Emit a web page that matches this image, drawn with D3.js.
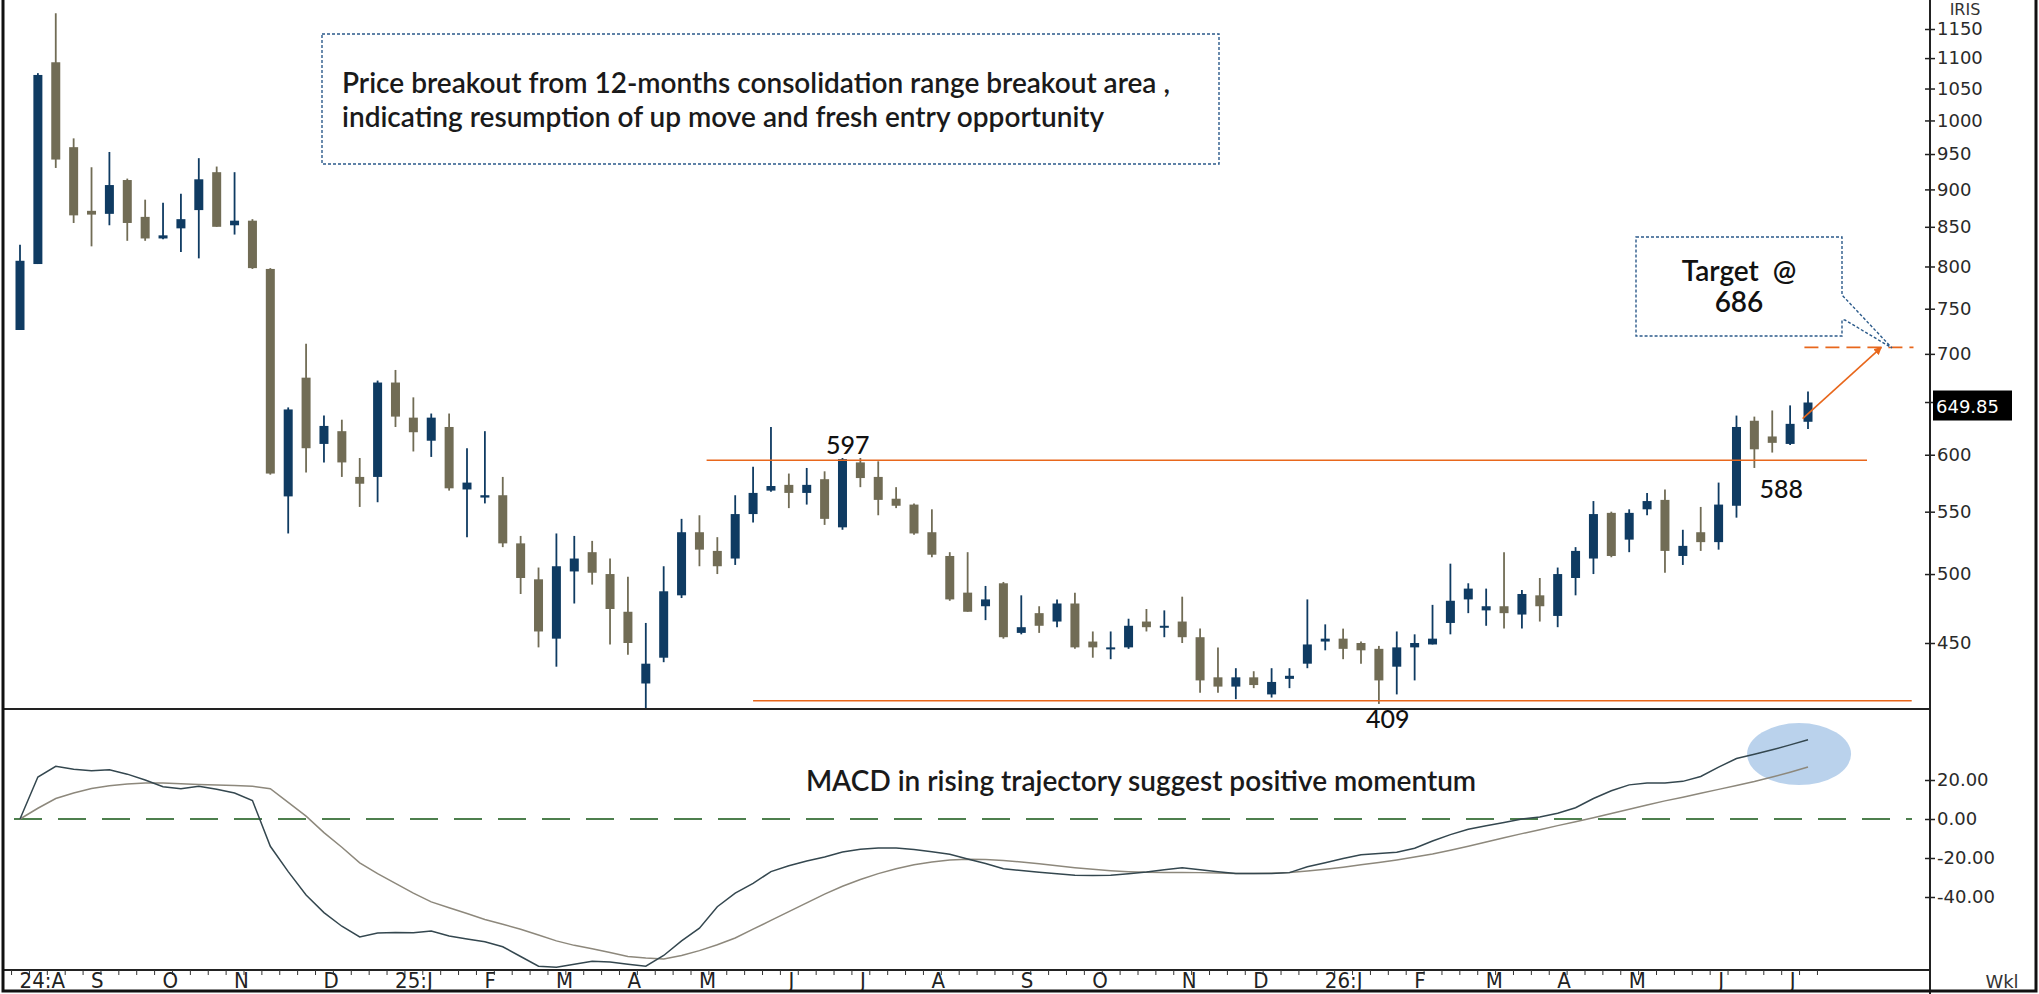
<!DOCTYPE html>
<html>
<head>
<meta charset="utf-8">
<script src="https://cdn.jsdelivr.net/npm/d3@7"></script>
<style>
  html, body { margin: 0; padding: 0; background: #fff; }
  svg { display: block; }
</style>
</head>
<body>
<div id="chart"></div>
<script>
// weekly candles, Aug 2024 -> Jul 2026
const open  = [726,803,1093,960,871,867,913,863,835,848,872,924,852,858,797,563,675,610,622,580,
               580,670,635,613,626,569,562,564,524,496,453,502,517,500,472,423,440,484,533,518,
               512,548,568,573,566,578,537,593,580,561,556,533,514,486,476,493,457,471,465,478,
               451,446,447,465,461,465,454,427,421,427,416,426,436,451,453,450,446,434,447,449,
               464,481,473,476,470,484,469,497,512,549,527,552,560,514,533,525,555,632,617,610,631];
const high  = [827,1075,1178,973,931,953,915,886,882,894,944,932,924,860,798,645,711,637,633,597,
               672,683,655,639,639,606,622,580,530,505,532,530,526,512,498,464,506,544,547,529,
               564,589,626,583,588,585,597,597,594,571,557,552,517,517,491,494,484,476,481,486,
               458,458,467,474,473,483,460,447,433,431,433,433,481,463,460,451,448,458,456,477,
               508,493,489,517,488,497,505,521,559,550,552,566,569,535,554,575,637,636,642,647,661];
const low   = [726,803,930,855,825,852,832,832,834,818,810,850,840,797,582,532,584,593,580,554,
               558,626,603,598,568,529,557,521,485,447,434,478,492,449,442,406,437,482,506,500,
               507,541,567,553,556,539,535,571,547,553,531,513,480,472,466,453,456,457,461,446,
               440,439,446,458,454,450,417,417,413,420,414,420,433,445,439,436,410,416,425,449,
               456,471,462,460,460,465,461,484,500,513,517,547,501,507,518,519,545,588,602,609,624];
const close = [807,1072,942,865,866,906,855,835,839,860,914,850,858,798,583,643,606,627,593,574,
               670,636,621,635,570,575,564,524,497,458,506,512,501,474,450,436,487,533,519,506,
               548,566,572,566,573,544,596,579,560,555,532,515,481,472,481,454,461,462,478,447,
               447,447,462,461,462,454,425,421,427,422,424,428,449,453,446,445,425,447,450,453,
               480,489,476,471,485,476,500,518,548,514,549,559,518,522,525,556,626,605,611,629,649.85];

// MACD (dark) and signal (light) lines
const macd   = [0,21.5,27,25.5,24.8,25.3,23,20,16.5,15.5,16.8,15.3,13.3,9.5,-14,-27,-39,-48,-55,-60.5,
                -58.5,-58.2,-58.3,-57.4,-60,-61.5,-63,-65.5,-70.5,-75.5,-76,-74.5,-73,-73.3,-74.5,-75.5,-70,-62.5,-56,-45,
                -38,-33,-27,-24,-21.5,-19.5,-16.9,-15.5,-14.9,-14.9,-15.6,-16.8,-18.1,-20.5,-22.8,-25.5,-26.4,-27.3,-28.1,-28.9,
                -29,-28.9,-28.1,-27.2,-26,-25,-26,-27.1,-28,-28,-28,-27.5,-24.5,-22.4,-20.3,-18.3,-17.7,-17,-15,-11.3,
                -8,-5.3,-3.5,-1.8,0,1,3,5.8,10.5,14.5,17.5,18.4,18.5,19.3,21.8,26.6,31,33.2,35.5,38,40.6];
const signal = [0,5.5,10.5,13.3,15.6,17,18,18.4,18.4,18.1,17.7,17.4,17.2,16.8,15.5,8.5,1.5,-7,-14.5,-22.5,
                -28,-33,-38,-42.5,-45.5,-48.5,-51.5,-54,-56.5,-59.5,-62.5,-64.8,-66.5,-68.5,-70.5,-71.3,-71.8,-70,-67.5,-64.5,
                -61,-56.5,-52,-47.5,-43,-38.5,-34.5,-31,-28,-25.5,-23.5,-22,-21,-20.6,-20.8,-21.3,-22,-23,-24,-25,
                -25.8,-26.5,-27,-27.3,-27.4,-27.4,-27.5,-27.7,-27.9,-28,-27.8,-27.4,-26.7,-25.8,-24.7,-23.5,-22.3,-21,-19.5,-18,
                -16,-14,-11.8,-9.6,-7.5,-5.5,-3.4,-1.4,0.6,2.8,5,7.2,9.3,11.2,13.2,15.2,17.2,19.2,21.5,24,26.7];

// month labels and the week they start on
const monthLabels = ['24:A','S','O','N','D','25:J','F','M','A','M','J','J','A','S','O','N','D','26:J','F','M','A','M','J','J'];
const monthWeeks  = [0,4,8,12,17,21,26,30,34,38,43,47,51,56,60,65,69,73,78,82,86,90,95,99];

const priceTicks = [450,500,550,600,700,750,800,850,900,950,1000,1050,1100,1150];
const macdTicks  = [20,0,-20,-40];

// levels marked on the chart
const resistance = 595, support = 412, targetLine = 707;

const W = 2039, H = 994;
const axisX = 1930, sepY = 709, xAxisY = 970;
const upColor = '#0f3b62', downColor = '#716c55';
const orange = '#e8671c';
const textFont = 'Lato, "Open Sans", sans-serif';
const axisFont = '"DejaVu Sans", Verdana, sans-serif';

const svg = d3.select('#chart').append('svg')
  .attr('width', W).attr('height', H);

const x  = d3.scaleLinear().domain([0, close.length - 1]).range([20, 1808]);
const y  = d3.scaleLog().domain([450, 1150]).range([643, 29]);
const ym = d3.scaleLinear().domain([-40, 20]).range([897, 780]);
const step = x(1) - x(0);

svg.append('rect').attr('width', W).attr('height', H).attr('fill', '#fff');

const defs = svg.append('defs');
defs.append('clipPath').attr('id', 'clipPrice')
  .append('rect').attr('x', 4).attr('y', 0).attr('width', axisX - 4).attr('height', sepY);
defs.append('clipPath').attr('id', 'clipMacd')
  .append('rect').attr('x', 4).attr('y', sepY + 1).attr('width', axisX - 4).attr('height', xAxisY - sepY - 1);
defs.append('marker').attr('id', 'arrow')
  .attr('viewBox', '0 0 10 10').attr('refX', 9).attr('refY', 5)
  .attr('markerWidth', 8).attr('markerHeight', 8).attr('markerUnits', 'userSpaceOnUse')
  .attr('orient', 'auto')
  .append('path').attr('d', 'M0,0 L10,5 L0,10 Z').attr('fill', orange);

// ---- price panel ----
const price = svg.append('g').attr('clip-path', 'url(#clipPrice)');

const candle = price.selectAll('.candle')
  .data(close.map((c, i) => ({ i, o: open[i], h: high[i], l: low[i], c })))
  .enter().append('g').attr('class', 'candle');

candle.append('line')
  .attr('x1', d => x(d.i)).attr('x2', d => x(d.i))
  .attr('y1', d => y(d.h)).attr('y2', d => y(d.l))
  .attr('stroke', d => d.c >= d.o ? upColor : downColor)
  .attr('stroke-width', 1.8);

candle.append('rect')
  .attr('x', d => x(d.i) - 4.5)
  .attr('width', 9)
  .attr('y', d => y(Math.max(d.o, d.c)))
  .attr('height', d => Math.max(2, Math.abs(y(d.o) - y(d.c))))
  .attr('fill', d => d.c >= d.o ? upColor : downColor);

// support / resistance
price.append('line')
  .attr('x1', x(38.4)).attr('x2', x(103.3))
  .attr('y1', y(resistance)).attr('y2', y(resistance))
  .attr('stroke', orange).attr('stroke-width', 1.6);
price.append('line')
  .attr('x1', x(41)).attr('x2', x(105.8))
  .attr('y1', y(support)).attr('y2', y(support))
  .attr('stroke', orange).attr('stroke-width', 1.6);
price.append('line')
  .attr('x1', x(99.8)).attr('x2', x(105.9))
  .attr('y1', y(targetLine)).attr('y2', y(targetLine))
  .attr('stroke', orange).attr('stroke-width', 1.6)
  .attr('stroke-dasharray', '14,7');

// arrow toward target
price.append('line')
  .attr('x1', x(99.7)).attr('y1', y(634))
  .attr('x2', x(104.1)).attr('y2', y(707))
  .attr('stroke', orange).attr('stroke-width', 1.6)
  .attr('marker-end', 'url(#arrow)');

// level labels
const lvl = [
  { t: '597', i: 46.3, v: 601 },
  { t: '588', i: 98.5, v: 562 },
  { t: '409', i: 76.5, v: 395 }
];
svg.selectAll('.lvl').data(lvl).enter().append('text')
  .attr('x', d => x(d.i)).attr('y', d => y(d.v))
  .attr('text-anchor', 'middle')
  .attr('font-family', textFont).attr('font-size', 25).attr('font-weight', 500)
  .attr('fill', '#111')
  .text(d => d.t);

// breakout comment box
svg.append('rect')
  .attr('x', 322).attr('y', 34).attr('width', 897).attr('height', 130)
  .attr('fill', '#fff').attr('stroke', '#2b5a8a').attr('stroke-width', 1.4)
  .attr('stroke-dasharray', '3,2');
const note = svg.append('text')
  .attr('font-family', textFont).attr('font-size', 28).attr('font-weight', 600)
  .attr('fill', '#1a1a1a');
note.append('tspan').attr('x', 342).attr('y', 93)
  .text('Price breakout from 12-months consolidation range breakout area ,');
note.append('tspan').attr('x', 342).attr('y', 127)
  .text('indicating resumption of up move and fresh entry opportunity');

// target callout
svg.append('path')
  .attr('d', 'M1636,237 H1842 V295 L1892,348 L1845,320 H1842 V336 H1636 Z')
  .attr('fill', '#fff').attr('stroke', '#2b5a8a').attr('stroke-width', 1.4)
  .attr('stroke-dasharray', '3,2');
const tgt = svg.append('text')
  .attr('text-anchor', 'middle')
  .attr('font-family', textFont).attr('font-size', 28).attr('font-weight', 600)
  .attr('fill', '#111');
tgt.append('tspan').attr('x', 1739).attr('y', 281).attr('xml:space', 'preserve').text('Target  @');
tgt.append('tspan').attr('x', 1739).attr('y', 312).text('686');

// ---- MACD panel ----
const mp = svg.append('g').attr('clip-path', 'url(#clipMacd)');

mp.append('ellipse')
  .attr('cx', x(99.5)).attr('cy', ym(33.3)).attr('rx', 52).attr('ry', 31)
  .attr('fill', '#a9c7e7').attr('opacity', 0.8);

mp.append('line')
  .attr('x1', 14).attr('x2', 1912)
  .attr('y1', ym(0)).attr('y2', ym(0))
  .attr('stroke', '#4d7f4d').attr('stroke-width', 1.8)
  .attr('stroke-dasharray', '28,16');

const ln = d3.line().x((d, i) => x(i)).y(d => ym(d));
mp.append('path').datum(signal).attr('d', ln)
  .attr('fill', 'none').attr('stroke', '#8d887c').attr('stroke-width', 1.5);
mp.append('path').datum(macd).attr('d', ln)
  .attr('fill', 'none').attr('stroke', '#34474f').attr('stroke-width', 1.5);

svg.append('text')
  .attr('x', 1141).attr('y', 791).attr('text-anchor', 'middle')
  .attr('font-family', textFont).attr('font-size', 28).attr('font-weight', 600)
  .attr('fill', '#1a1a1a')
  .text('MACD in rising trajectory suggest positive momentum');

// ---- frame and axes ----
svg.append('line').attr('x1', 3).attr('x2', axisX).attr('y1', sepY).attr('y2', sepY)
  .attr('stroke', '#222').attr('stroke-width', 2);
svg.append('line').attr('x1', axisX).attr('x2', axisX).attr('y1', 0).attr('y2', H)
  .attr('stroke', '#222').attr('stroke-width', 2);

const hyphen = f => d => f(d).replace('\u2212', '-');
const yAxis = svg.append('g').attr('transform', `translate(${axisX},0)`)
  .call(d3.axisRight(y).tickValues(priceTicks).tickFormat(d3.format('d')).tickSize(5).tickPadding(2));
const mAxis = svg.append('g').attr('transform', `translate(${axisX},0)`)
  .call(d3.axisRight(ym).tickValues(macdTicks).tickFormat(hyphen(d3.format('.2f'))).tickSize(5).tickPadding(2));
[yAxis, mAxis].forEach(g => {
  g.select('.domain').remove();
  g.selectAll('.tick line').attr('x1', -5).attr('stroke', '#222').attr('stroke-width', 1.5);
  g.selectAll('.tick text')
    .attr('font-family', axisFont).attr('font-size', 18).attr('fill', '#2a2a2a');
});

// last price tag
const last = close[close.length - 1];
const tag = svg.append('g').attr('transform', `translate(${axisX},${y(last)})`);
tag.append('line').attr('x1', -5).attr('x2', 5).attr('stroke', '#222').attr('stroke-width', 1.5);
tag.append('rect').attr('x', 3).attr('y', -12).attr('width', 79).attr('height', 30).attr('fill', '#000');
tag.append('text').attr('x', 6).attr('y', 10)
  .attr('font-family', axisFont).attr('font-size', 18).attr('fill', '#fff')
  .text(d3.format('.2f')(last));

// week axis
const xEdge = d3.scaleLinear().domain([0, close.length - 1]).range([x(0) - step / 2, x(close.length - 1) - step / 2]);
const monthOf = new Map(monthWeeks.map((w, k) => [w, monthLabels[k]]));
const xAxis = svg.append('g').attr('transform', `translate(0,${xAxisY})`)
  .call(d3.axisBottom(xEdge).tickValues(d3.range(close.length + 1))
    .tickFormat(i => monthOf.get(i) || '').tickSize(5));
xAxis.select('.domain').attr('d', `M3,0H${axisX}`).attr('stroke', '#222').attr('stroke-width', 2);
xAxis.selectAll('.tick line').attr('stroke', '#333').attr('stroke-width', 1);
xAxis.selectAll('.tick text')
  .attr('text-anchor', 'start').attr('dx', 8).attr('y', 18).attr('dy', 0)
  .attr('font-family', '"DejaVu Sans Condensed", "Liberation Sans Narrow", sans-serif')
  .attr('font-stretch', 'condensed')
  .attr('font-size', 22).attr('fill', '#222');

svg.append('text').attr('x', 1965).attr('y', 15).attr('text-anchor', 'middle')
  .attr('font-family', axisFont).attr('font-size', 16).attr('fill', '#333').text('IRIS');
svg.append('text').attr('x', 2002).attr('y', 988).attr('text-anchor', 'middle')
  .attr('font-family', axisFont).attr('font-size', 18).attr('fill', '#333').text('Wkl');

// outer frame
svg.append('path')
  .attr('d', `M3,0 V${H - 3} H2036 V0`)
  .attr('fill', 'none').attr('stroke', '#111').attr('stroke-width', 3);
</script>
</body>
</html>
